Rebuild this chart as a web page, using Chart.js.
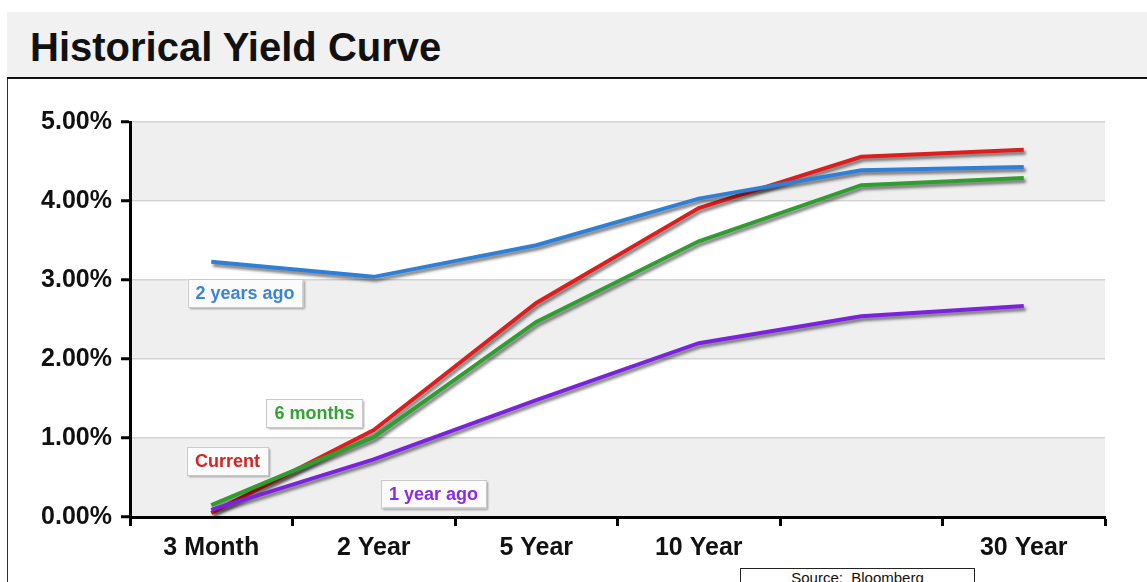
<!DOCTYPE html>
<html>
<head>
<meta charset="utf-8">
<title>Historical Yield Curve</title>
<script src="https://cdn.jsdelivr.net/npm/chart.js@4.4.1/dist/chart.umd.min.js"></script>
<style>
  html, body { margin: 0; padding: 0; background: #fff; width: 1147px; height: 582px; overflow: hidden;
    font-family: "Liberation Sans", Arial, Helvetica, sans-serif; }
  #head { position: absolute; left: 7px; top: 12px; width: 1140px; height: 65px; background: #f1f1f1;
    border-bottom: 2.5px solid #111; }
  #head h1 { position: absolute; left: 23px; top: 15px; margin: 0; font-size: 40px; line-height: 40px;
    font-weight: bold; color: #111; white-space: nowrap; }
  #frame { position: absolute; left: 7px; top: 79px; width: 1140px; height: 503px; border-left: 1.5px solid #333; }
  #wrap { position: absolute; left: 8px; top: 79px; width: 1139px; height: 503px; }
  #src { position: absolute; left: 740px; top: 568px; width: 233px; height: 24px; border: 1px solid #222;
    background: #fff; font-size: 15px; line-height: 15px; padding-top: 1px; text-align: center; color: #111;
    white-space: pre; }
</style>
</head>
<body>
<div id="head"><h1>Historical Yield Curve</h1></div>
<div id="frame"></div>
<div id="wrap"><canvas id="c" width="1139" height="503"></canvas></div>
<div id="src">Source:  Bloomberg</div>
<script>
// Maturities along the curve (the fifth point is unlabeled on the axis)
const categories = ['3 Month', '2 Year', '5 Year', '10 Year', '', '30 Year'];

// Treasury yields, percent
const current     = [0.05, 1.10, 2.71, 3.91, 4.56, 4.65];
const sixMonths   = [0.15, 1.01, 2.47, 3.49, 4.20, 4.29];
const oneYearAgo  = [0.09, 0.73, 1.48, 2.20, 2.54, 2.67];
const twoYearsAgo = [3.23, 3.04, 3.44, 4.03, 4.39, 4.43];

const yTicks = [0, 1, 2, 3, 4, 5];
const seriesNames = ['2 years ago', '1 year ago', '6 months', 'Current'];

const FONT = '"Liberation Sans", Arial, Helvetica, sans-serif';

// Alternating horizontal bands behind the grid
const bandPlugin = {
  id: 'bands',
  beforeDraw(chart) {
    const { ctx, chartArea: a, scales: { y } } = chart;
    ctx.save();
    ctx.fillStyle = '#efefef';
    for (let i = 0; i < yTicks.length - 1; i += 2) {
      const lo = yTicks[yTicks.length - 2 - i], hi = yTicks[yTicks.length - 1 - i];
      const t = y.getPixelForValue(hi), b = y.getPixelForValue(lo);
      ctx.fillRect(a.left, t, a.right - a.left, b - t);
    }
    ctx.restore();
  }
};

// Soft drop shadow under each line
const shadowPlugin = {
  id: 'lineShadow',
  beforeDatasetDraw(chart) {
    const ctx = chart.ctx;
    ctx.save();
    ctx.shadowColor = 'rgba(0,0,0,0.5)';
    ctx.shadowOffsetX = 2;
    ctx.shadowOffsetY = 3;
    ctx.shadowBlur = 3;
  },
  afterDatasetDraw(chart) { chart.ctx.restore(); }
};

// Boxed series names placed in data space
const tagPlugin = {
  id: 'tags',
  afterDatasetsDraw(chart, args, opts) {
    const { ctx, scales: { x, y } } = chart;
    ctx.save();
    ctx.font = 'bold 18px ' + FONT;
    ctx.textAlign = 'center';
    ctx.textBaseline = 'middle';
    for (const tag of opts.items) {
      const cx = x.getPixelForValue(tag.at[0]);
      const cy = y.getPixelForValue(tag.at[1]);
      const w = ctx.measureText(tag.text).width + 16;
      const h = 28;
      ctx.save();
      ctx.shadowColor = 'rgba(0,0,0,0.35)';
      ctx.shadowOffsetX = 2;
      ctx.shadowOffsetY = 2;
      ctx.shadowBlur = 2;
      ctx.fillStyle = '#fbfbfb';
      ctx.fillRect(cx - w / 2, cy - h / 2, w, h);
      ctx.restore();
      ctx.strokeStyle = '#c9c9c9';
      ctx.lineWidth = 1;
      ctx.strokeRect(Math.round(cx - w / 2) + 0.5, Math.round(cy - h / 2) + 0.5, Math.round(w), h);
      ctx.fillStyle = tag.color;
      ctx.fillText(tag.text, cx, cy + 1);
    }
    ctx.restore();
  }
};

const colors = {
  '2 years ago': '#2f7fd6',
  '1 year ago': '#7b22de',
  '6 months': '#2f9e2f',
  'Current': '#de1d1d'
};
const seriesData = {
  '2 years ago': twoYearsAgo,
  '1 year ago': oneYearAgo,
  '6 months': sixMonths,
  'Current': current
};

new Chart(document.getElementById('c'), {
  type: 'line',
  data: {
    labels: categories,
    datasets: seriesNames.map(n => ({
      label: n,
      data: seriesData[n],
      borderColor: colors[n],
      backgroundColor: colors[n],
      borderWidth: 4,
      borderCapStyle: 'butt',
      borderJoinStyle: 'miter',
      tension: 0,
      pointRadius: 0,
      pointHoverRadius: 0,
      fill: false
    }))
  },
  options: {
    responsive: false,
    animation: false,
    events: [],
    layout: { padding: { top: 43, right: 42, bottom: 0, left: 0 } },
    plugins: {
      legend: { display: false },
      tooltip: { enabled: false },
      title: { display: false },
      tags: {
        items: [
          { text: '2 years ago', color: '#3a84d6', at: [0.208, 2.835] },
          { text: '6 months',    color: '#36a236', at: [0.635, 1.316] },
          { text: 'Current',     color: '#d82222', at: [0.10, 0.703] },
          { text: '1 year ago',  color: '#8a2ce0', at: [1.368, 0.297] }
        ]
      }
    },
    scales: {
      x: {
        type: 'category',
        offset: true,
        afterFit(s) { s.height = 65; },
        grid: {
          offset: true,
          drawOnChartArea: false,
          drawTicks: true,
          tickLength: 9,
          tickWidth: 3,
          tickColor: '#000'
        },
        border: { display: true, color: '#000', width: 3 },
        ticks: {
          color: '#111',
          padding: 7,
          maxRotation: 0,
          autoSkip: false,
          font: { family: FONT, size: 25, weight: 'bold' }
        }
      },
      y: {
        min: 0,
        max: 5,
        afterFit(s) { s.width = 122; },
        afterBuildTicks(s) { s.ticks = yTicks.map(v => ({ value: v })); },
        grid: {
          color: '#d3d3d3',
          lineWidth: 1.5,
          drawTicks: true,
          tickLength: 9,
          tickWidth: 3,
          tickColor: '#000'
        },
        border: { display: true, color: '#000', width: 3 },
        ticks: {
          color: '#111',
          padding: 9,
          callback: v => v.toFixed(2) + '%',
          font: { family: FONT, size: 25, weight: 'bold' }
        }
      }
    }
  },
  plugins: [bandPlugin, shadowPlugin, tagPlugin]
});
</script>
</body>
</html>
